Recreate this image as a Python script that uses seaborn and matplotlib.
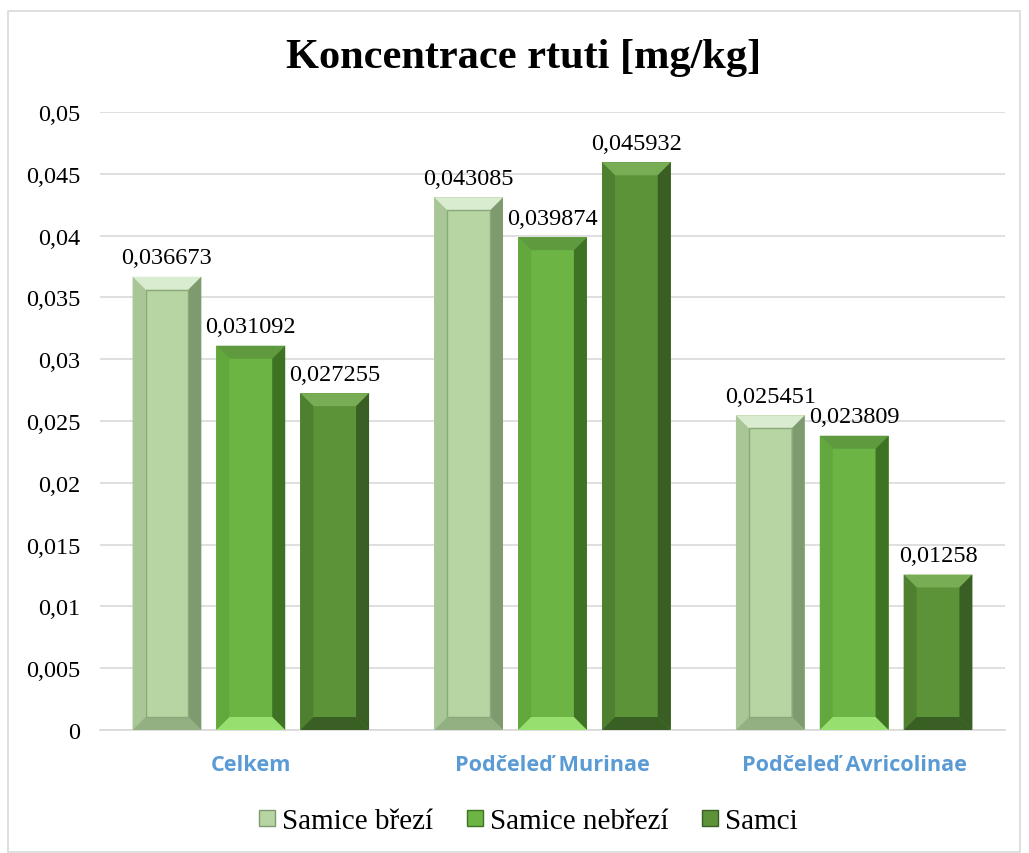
import matplotlib
matplotlib.use("Agg")
import matplotlib.pyplot as plt
import seaborn as sns
import pandas as pd
import numpy as np
from matplotlib.patches import Polygon, Rectangle
from matplotlib.lines import Line2D

categories = ["Celkem", "Podčeleď Murinae", "Podčeleď Avricolinae"]
series = ["Samice březí", "Samice nebřezí", "Samci"]
samice_brezi = [0.036673, 0.043085, 0.025451]
samice_nebrezi = [0.031092, 0.039874, 0.023809]
samci = [0.027255, 0.045932, 0.01258]
yticks = [0, 0.005, 0.01, 0.015, 0.02, 0.025, 0.03, 0.035, 0.04, 0.045, 0.05]
title = "Koncentrace rtuti [mg/kg]"

colors = ["#b7d4a3", "#6cb545", "#5c9238"]
bevel = {  # top, left, right, bottom
    0: ["#d9ecd0", "#a9c697", "#7e9a6f", "#93b083"],
    1: ["#5f9a3f", "#62a83c", "#3f7324", "#97e070"],
    2: ["#78ad55", "#4f8030", "#3a5f24", "#3a5f24"],
}

df = pd.DataFrame({
    "cat": categories * 3,
    "series": [series[0]] * 3 + [series[1]] * 3 + [series[2]] * 3,
    "val": samice_brezi + samice_nebrezi + samci,
})

sns.set_theme(style="white")
plt.rcParams["font.family"] = ["Liberation Serif", "DejaVu Serif"]
plt.rcParams["text.color"] = "black"
plt.rcParams["xtick.color"] = "black"
plt.rcParams["ytick.color"] = "black"

fig = plt.figure(figsize=(10.29, 8.54), dpi=100)
ax = fig.add_axes([100 / 1029, 123 / 854, 905 / 1029, 618 / 854])

sns.barplot(data=df, x="cat", y="val", hue="series", order=categories,
            hue_order=series, palette=colors, width=0.834, gap=0.18,
            ax=ax, legend=False, saturation=1, linewidth=0)

ax.set_ylim(0, 0.05)
ax.set_xlim(-0.5, 2.5)
ax.set_yticks(yticks)
ax.set_yticklabels([("%g" % v).replace(".", ",") if v != 0 else "0" for v in yticks],
                   fontsize=17.5, color="black")
ax.grid(axis="y", color="#d9d9d9", linewidth=1.2)
ax.set_axisbelow(True)
for s in ["top", "right", "left"]:
    ax.spines[s].set_visible(False)
ax.spines["bottom"].set_color("#d9d9d9")
ax.spines["bottom"].set_linewidth(1.2)
ax.tick_params(axis="both", length=0)
ax.tick_params(axis="y", pad=14)
ax.tick_params(axis="x", pad=17)
ax.set_xlabel("")
ax.set_ylabel("")
for lab in ax.get_xticklabels():
    lab.set_fontfamily("Open Sans")
    lab.set_fontweight("bold")
    lab.set_color("#5b9bd5")
    lab.set_fontsize(15.6)

# bevel decoration derived from bar geometry
px_x = 3 / 905.0  # data units per px in x
px_y = 0.05 / 618.0
bpx = 13
for i, cont in enumerate(ax.containers):
    tcol, lcol, rcol, bcol = bevel[i]
    for p in cont.patches:
        x0, y0 = p.get_x(), p.get_y()
        w, h = p.get_width(), p.get_height()
        x1, y1 = x0 + w, y0 + h
        bx, by = bpx * px_x, bpx * px_y
        by = min(by, h / 4)
        top = Polygon([(x0, y1), (x1, y1), (x1 - bx, y1 - by), (x0 + bx, y1 - by)],
                      closed=True, facecolor=tcol, edgecolor="none", zorder=3)
        left = Polygon([(x0, y0), (x0, y1), (x0 + bx, y1 - by), (x0 + bx, y0 + by)],
                       closed=True, facecolor=lcol, edgecolor="none", zorder=3)
        right = Polygon([(x1, y0), (x1, y1), (x1 - bx, y1 - by), (x1 - bx, y0 + by)],
                        closed=True, facecolor=rcol, edgecolor="none", zorder=3)
        bot = Polygon([(x0, y0), (x1, y0), (x1 - bx, y0 + by), (x0 + bx, y0 + by)],
                      closed=True, facecolor=bcol, edgecolor="none", zorder=3)
        for poly in (top, left, right, bot):
            ax.add_patch(poly)
        if i == 0:
            ax.add_patch(Rectangle((x0 + bx, y0 + by), w - 2 * bx, h - 2 * by,
                                   facecolor="none", edgecolor="#8aa87a",
                                   linewidth=1, zorder=4))
        ax.annotate(("%g" % p.get_height()).replace(".", ","),
                    (x0 + w / 2, y1), xytext=(0, 6), textcoords="offset points",
                    ha="center", va="bottom", fontsize=17.5, color="black")

handles = [Line2D([], [], marker="s", linestyle="none", markersize=11.5,
                  markerfacecolor=c, markeredgecolor=bevel[i][2], markeredgewidth=1)
           for i, c in enumerate(colors)]
fig.legend(handles, series, loc="center", bbox_to_anchor=(528 / 1029, 1 - 822 / 854),
           ncol=3, frameon=False, fontsize=21, handletextpad=0.2,
           columnspacing=1.15, handlelength=0.6)

fig.text(524 / 1029, 1 - 58 / 854, title, ha="center", va="center",
         fontsize=30.5, fontweight="bold", color="black")

fig.patches.append(Rectangle((8 / 1029, 1 / 854), 1012 / 1029, 841 / 854,
                             transform=fig.transFigure, facecolor="none",
                             edgecolor="#d9d9d9", linewidth=1.2))

fig.savefig("out.png", dpi=100)
